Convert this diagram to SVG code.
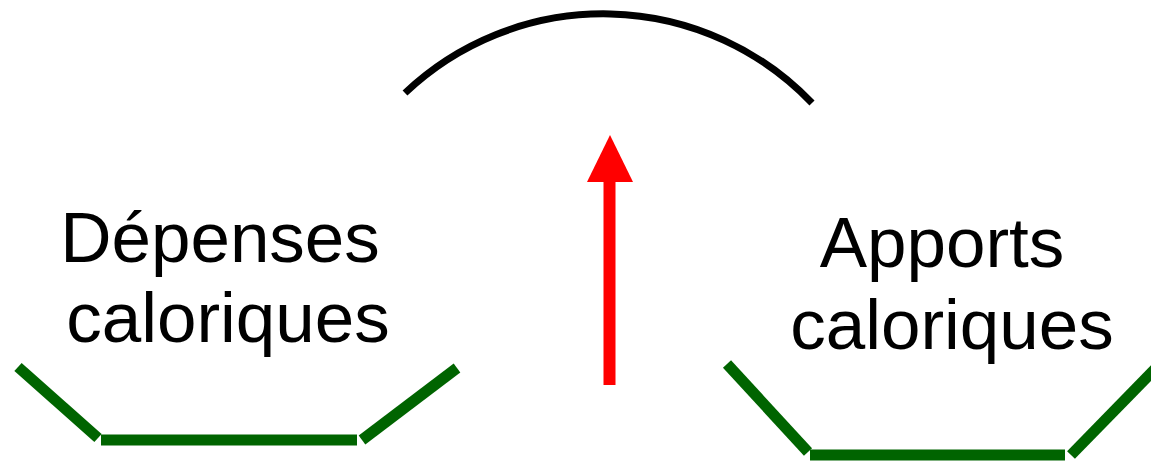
<svg xmlns="http://www.w3.org/2000/svg" width="1151" height="461" viewBox="0 0 1151 461">
  <style>
    .lbl { font-family: "Liberation Sans", Arial, sans-serif; font-size: 71px; fill: #000; text-anchor: middle; }
    .pan { stroke: #006400; stroke-width: 11; fill: none; stroke-linecap: butt; }
    .beam { stroke: #000; stroke-width: 7; fill: none; }
    .arrow { stroke: #ff0000; stroke-width: 12; fill: none; }
  </style>
  <rect width="1151" height="461" fill="#fff"/>
  <g id="beam">
    <path class="beam" d="M405,93 A288.5,288.5 0 0,1 812,103"/>
  </g>
  <g id="depenses">
    <text class="lbl" x="220" y="262">Dépenses</text>
    <text class="lbl" x="228" y="342">caloriques</text>
    <line class="pan" x1="18" y1="367" x2="98" y2="438"/>
    <line class="pan" x1="101" y1="440" x2="357" y2="440"/>
    <line class="pan" x1="362" y1="440" x2="457" y2="368"/>
  </g>
  <g id="apports">
    <text class="lbl" x="942" y="267">Apports</text>
    <text class="lbl" x="952" y="349">caloriques</text>
    <line class="pan" x1="727" y1="364" x2="808" y2="452"/>
    <line class="pan" x1="810" y1="455" x2="1065" y2="455"/>
    <line class="pan" x1="1071" y1="455" x2="1155" y2="369"/>
  </g>
  <g id="connectors">
    <line class="arrow" x1="609.5" y1="385" x2="609.5" y2="182"/>
    <path d="M587,182 L610,135 L633,182 Z" fill="#ff0000"/>
  </g>
</svg>
